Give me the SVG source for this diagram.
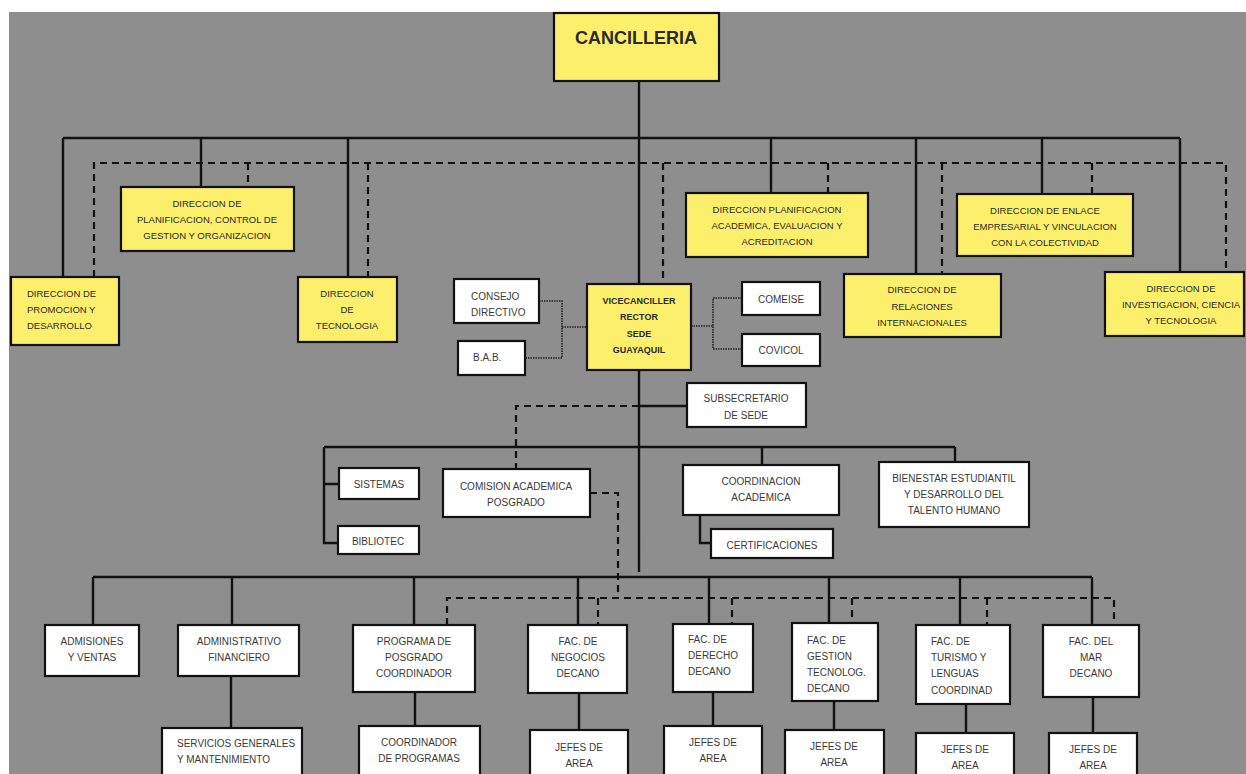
<svg xmlns="http://www.w3.org/2000/svg" width="1246" height="774" viewBox="0 0 1246 774">
<defs>
<style>
.bg{fill:#8e8e8e}
.y rect{fill:#fcef6c;stroke:#111;stroke-width:2.2}
.w rect{fill:#fff;stroke:#111;stroke-width:2.2}
text{font-family:"Liberation Sans",Arial,sans-serif;font-size:10px;fill:#3a3a3a}
.y text{font-size:9.5px;fill:#2a2a2a}
.c{text-anchor:middle}
.b{font-weight:bold;fill:#111}
.solid{fill:none;stroke:#111;stroke-width:2.4}
.dash{fill:none;stroke:#111;stroke-width:2.2;stroke-dasharray:7 5}
.dot{fill:none;stroke:#222;stroke-width:1.6;stroke-dasharray:1.5 1}
</style>
</defs>
<rect width="1246" height="774" fill="#fff"/>
<rect class="bg" x="9" y="12" width="1237" height="762"/>

<g id="connectors">
<path class="solid" d="M639 81V284 M63 138H1180 M63 138V277 M201 138V187 M348 138V277 M771 138V193 M916 138V274 M1042 138V194 M1180 138V272"/>
<path class="solid" d="M639 370V572 M639 406H687 M324 447H955 M955 447V462 M762 447V465 M324 447V543H338 M324 484H339 M700 515V543H711"/>
<path class="solid" d="M93 577H1092 M93 577V625 M232 577V625 M414 577V625 M578 577V625 M709 577V624 M829 577V623 M960 577V625 M1092 577V625"/>
<path class="solid" d="M231 676V728 M415 692V726 M579 693V730 M713 692V726 M834 701V730 M966 704V733 M1093 697V733"/>
<path class="dash" d="M94 277V163H1226V272 M248 163V187 M368 163V277 M663 163V284 M828 163V193 M942 163V274 M1092 163V194"/>
<path class="dash" d="M639 406H516V469 M590 493H618V598 M447 625V598H1114V625 M598 598V625 M732 598V624 M852 598V623 M987 598V625"/>
<path class="dot" d="M539 301H562V358H525 M562 327H587 M691 326H713 M742 298H713V349H742"/>
</g>

<g id="cancilleria" class="y"><rect x="554" y="13" width="165" height="68"/><text class="c b" x="636" y="44" style="font-size:18px">CANCILLERIA</text></g>
<g id="dir-planificacion" class="y"><rect x="121" y="187" width="173" height="64"/><text class="c" x="207" y="206.5">DIRECCION DE</text><text class="c" x="207" y="222.5">PLANIFICACION, CONTROL DE</text><text class="c" x="207" y="238.5">GESTION Y ORGANIZACION</text></g>
<g id="dir-promocion" class="y"><rect x="11" y="277" width="108" height="68"/><text x="27" y="296.5">DIRECCION DE</text><text x="27" y="312.5">PROMOCION Y</text><text x="27" y="328.5">DESARROLLO</text></g>
<g id="dir-tecnologia" class="y"><rect x="298" y="277" width="99" height="65"/><text class="c" x="347" y="296.5">DIRECCION</text><text class="c" x="347" y="312.5">DE</text><text class="c" x="347" y="328.5">TECNOLOGIA</text></g>
<g id="dir-planif-academica" class="y"><rect x="686" y="193" width="182" height="64"/><text class="c" x="777" y="212.5">DIRECCION PLANIFICACION</text><text class="c" x="777" y="228.5">ACADEMICA,  EVALUACION Y</text><text class="c" x="777" y="244.5">ACREDITACION</text></g>
<g id="dir-enlace" class="y"><rect x="957" y="194" width="176" height="62"/><text class="c" x="1045" y="213.5">DIRECCION DE ENLACE</text><text class="c" x="1045" y="229.5">EMPRESARIAL Y VINCULACION</text><text class="c" x="1045" y="245.5">CON LA COLECTIVIDAD</text></g>
<g id="dir-relaciones" class="y"><rect x="844" y="274" width="157" height="63"/><text class="c" x="922" y="292.5">DIRECCION DE</text><text class="c" x="922" y="309.5">RELACIONES</text><text class="c" x="922" y="325.5">INTERNACIONALES</text></g>
<g id="dir-investigacion" class="y"><rect x="1105" y="272" width="139" height="64"/><text class="c" x="1181" y="291.5">DIRECCION DE</text><text class="c" x="1181" y="307.5">INVESTIGACION, CIENCIA</text><text class="c" x="1181" y="323.5">Y TECNOLOGIA</text></g>
<g id="vicecanciller" class="y"><rect x="587" y="284" width="104" height="86"/><text class="c b" x="639" y="303.5" style="font-size:9px">VICECANCILLER</text><text class="c b" x="639" y="320" style="font-size:9px">RECTOR</text><text class="c b" x="639" y="336.5" style="font-size:9px">SEDE</text><text class="c b" x="639" y="353" style="font-size:9px">GUAYAQUIL</text></g>

<g id="consejo" class="w"><rect x="454" y="279" width="85" height="44"/><text x="471" y="299.5">CONSEJO</text><text x="471" y="315.5">DIRECTIVO</text></g>
<g id="bab" class="w"><rect x="458" y="341" width="67" height="34"/><text x="473" y="360.5">B.A.B.</text></g>
<g id="comeise" class="w"><rect x="742" y="282" width="78" height="33"/><text class="c" x="781" y="302.5">COMEISE</text></g>
<g id="covicol" class="w"><rect x="742" y="334" width="78" height="32"/><text class="c" x="781" y="353.5">COVICOL</text></g>
<g id="subsecretario" class="w"><rect x="687" y="383" width="119" height="44"/><text class="c" x="746" y="401.5">SUBSECRETARIO</text><text class="c" x="746" y="418.5">DE SEDE</text></g>
<g id="sistemas" class="w"><rect x="339" y="468" width="80" height="31"/><text class="c" x="379" y="487.5">SISTEMAS</text></g>
<g id="bibliotec" class="w"><rect x="338" y="526" width="81" height="28"/><text class="c" x="378" y="544.5">BIBLIOTEC</text></g>
<g id="comision" class="w"><rect x="443" y="469" width="147" height="48"/><text class="c" x="516" y="489.5">COMISION ACADEMICA</text><text class="c" x="516" y="505.5">POSGRADO</text></g>
<g id="coordinacion" class="w"><rect x="683" y="465" width="156" height="50"/><text class="c" x="761" y="484.5">COORDINACION</text><text class="c" x="761" y="500.5">ACADEMICA</text></g>
<g id="certificaciones" class="w"><rect x="711" y="529" width="122" height="29"/><text class="c" x="772" y="548.5">CERTIFICACIONES</text></g>
<g id="bienestar" class="w"><rect x="879" y="462" width="150" height="65"/><text class="c" x="954" y="481.5">BIENESTAR ESTUDIANTIL</text><text class="c" x="954" y="497.5">Y DESARROLLO DEL</text><text class="c" x="954" y="513.5">TALENTO HUMANO</text></g>

<g id="admisiones" class="w"><rect x="45" y="625" width="94" height="51"/><text class="c" x="92" y="644.5">ADMISIONES</text><text class="c" x="92" y="660.5">Y VENTAS</text></g>
<g id="administrativo" class="w"><rect x="178" y="625" width="121" height="51"/><text class="c" x="239" y="644.5">ADMINISTRATIVO</text><text class="c" x="239" y="660.5">FINANCIERO</text></g>
<g id="servicios" class="w"><rect x="162" y="728" width="140" height="52"/><text x="177" y="746.5">SERVICIOS GENERALES</text><text x="177" y="762.5">Y MANTENIMIENTO</text></g>
<g id="programa" class="w"><rect x="353" y="625" width="122" height="67"/><text class="c" x="414" y="644.5">PROGRAMA DE</text><text class="c" x="414" y="660.5">POSGRADO</text><text class="c" x="414" y="676.5">COORDINADOR</text></g>
<g id="coord-programas" class="w"><rect x="359" y="726" width="121" height="54"/><text class="c" x="419" y="746">COORDINADOR</text><text class="c" x="419" y="762">DE PROGRAMAS</text></g>
<g id="fac-negocios" class="w"><rect x="528" y="625" width="99" height="68"/><text class="c" x="578" y="644.5">FAC. DE</text><text class="c" x="578" y="660.5">NEGOCIOS</text><text class="c" x="578" y="676.5">DECANO</text></g>
<g id="jefes-negocios" class="w"><rect x="530" y="730" width="98" height="50"/><text class="c" x="579" y="750.5">JEFES DE</text><text class="c" x="579" y="766.5">AREA</text></g>
<g id="fac-derecho" class="w"><rect x="673" y="624" width="80" height="68"/><text x="688" y="642.5">FAC. DE</text><text x="688" y="658.5">DERECHO</text><text x="688" y="675">DECANO</text></g>
<g id="jefes-derecho" class="w"><rect x="664" y="726" width="98" height="54"/><text class="c" x="713" y="745.5">JEFES DE</text><text class="c" x="713" y="761.5">AREA</text></g>
<g id="fac-gestion" class="w"><rect x="792" y="623" width="86" height="78"/><text x="807" y="643.5">FAC. DE</text><text x="807" y="659.5">GESTION</text><text x="807" y="675.5">TECNOLOG.</text><text x="807" y="691.5">DECANO</text></g>
<g id="jefes-gestion" class="w"><rect x="785" y="730" width="99" height="50"/><text class="c" x="834" y="749.5">JEFES DE</text><text class="c" x="834" y="765.5">AREA</text></g>
<g id="fac-turismo" class="w"><rect x="916" y="625" width="94" height="79"/><text x="931" y="644.5">FAC. DE</text><text x="931" y="660.5">TURISMO Y</text><text x="931" y="677">LENGUAS</text><text x="931" y="693.5">COORDINAD</text></g>
<g id="jefes-turismo" class="w"><rect x="916" y="733" width="98" height="47"/><text class="c" x="965" y="752.5">JEFES DE</text><text class="c" x="965" y="768.5">AREA</text></g>
<g id="fac-mar" class="w"><rect x="1043" y="625" width="96" height="72"/><text class="c" x="1091" y="644.5">FAC. DEL</text><text class="c" x="1091" y="660.5">MAR</text><text class="c" x="1091" y="676.5">DECANO</text></g>
<g id="jefes-mar" class="w"><rect x="1049" y="733" width="88" height="47"/><text class="c" x="1093" y="752.5">JEFES DE</text><text class="c" x="1093" y="768.5">AREA</text></g>
</svg>
